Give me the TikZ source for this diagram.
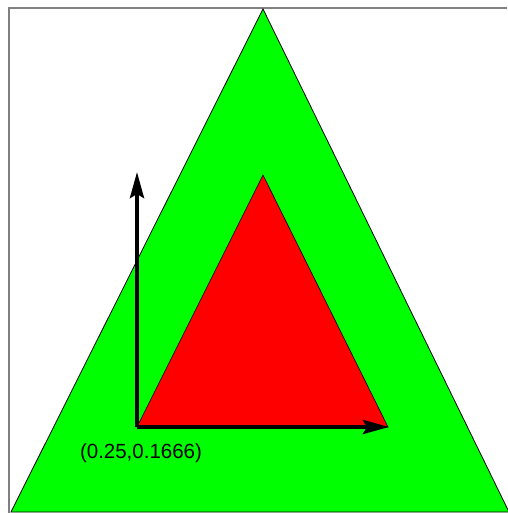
\documentclass[tikz,border=0pt]{standalone}
\usepackage{fontspec}
\setmainfont{Liberation Sans}
\usetikzlibrary{arrows.meta}
\definecolor{framegray}{RGB}{128,128,128}
\definecolor{bigfill}{RGB}{0,255,0}
\definecolor{smallfill}{RGB}{255,0,0}
\tikzset{
	frameline/.style={draw=framegray, line width=2pt},
	axisarrow/.style={line width=4pt, -{Stealth[length=26pt, width=14pt, inset=4pt]}},
}

\begin{document}
\begin{tikzpicture}[x=1pt, y=-1pt]
	% Bounding box and frame:
	\useasboundingbox (0, 0) rectangle (507, 513);
	\fill[white] (0, 0) rectangle (507, 513);
	\draw[frameline] (9, 513) -- (9, 8) -- (507, 8);
	% Triangles:
	\coordinate (bigL) at (11, 512);
	\coordinate (bigT) at (263, 9);
	\coordinate (bigR) at (509, 512);
	\filldraw[fill=bigfill, draw=black, line width=0.8pt] (bigL) -- (bigT) -- (bigR) -- cycle;
	\coordinate (smallL) at (137, 427);
	\coordinate (smallT) at (263, 175);
	\coordinate (smallR) at (388, 427);
	\filldraw[fill=smallfill, draw=black, line width=0.6pt] (smallL) -- (smallT) -- (smallR) -- cycle;
	% Axes:
	\coordinate (origin) at (137, 427);
	\coordinate (yend) at (137, 172);
	\coordinate (xend) at (389, 427);
	\draw[axisarrow] (origin) -- (yend);
	\draw[axisarrow] (origin) -- (xend);
	\node[anchor=center, inner sep=0pt, font=\fontsize{20.5}{22}\selectfont] (originlabel) at (141, 453){(0.25,0.1666)};
\end{tikzpicture}
\end{document}
